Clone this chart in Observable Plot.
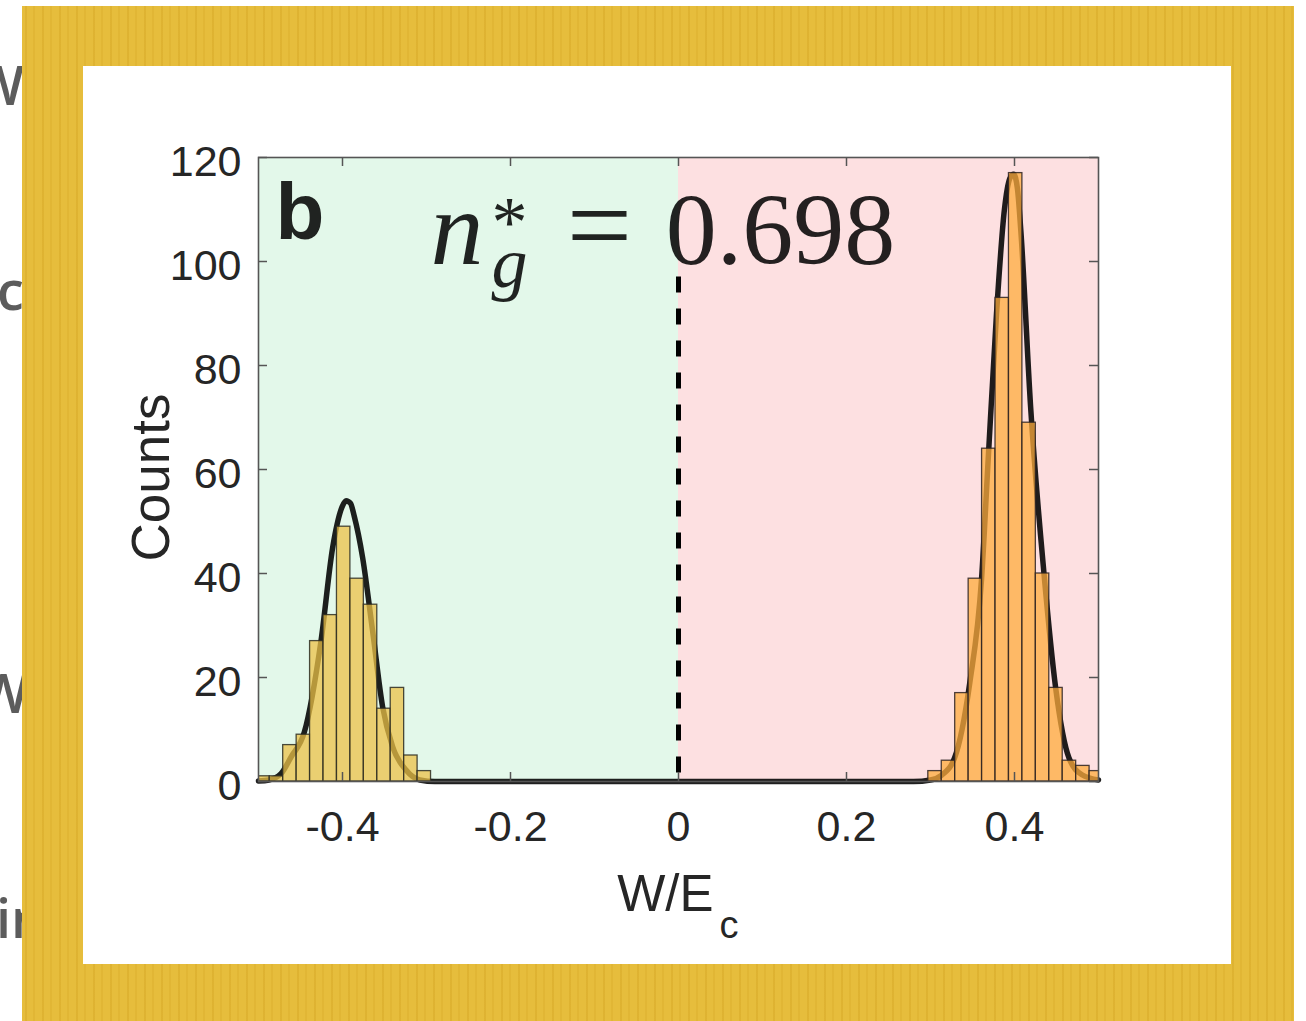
<!DOCTYPE html>
<html>
<head>
<meta charset="utf-8">
<script src="https://cdn.jsdelivr.net/npm/d3@7"></script>
<script src="https://cdn.jsdelivr.net/npm/@observablehq/plot@0.6"></script>
<style>
  html, body { margin: 0; padding: 0; background: #ffffff; }
  #page { position: relative; width: 1306px; height: 1021px; overflow: hidden; background: #ffffff; }
  .cut { position: absolute; font-family: "Open Sans", "DejaVu Sans", sans-serif; font-weight: 600;
         font-size: 54px; color: #5c5c5c; line-height: 1; white-space: nowrap; }
  #gold { position: absolute; left: 22px; top: 6px; width: 1272px; height: 1015px;
          background-color: #e6bd3c;
          background-image:
            repeating-linear-gradient(90deg, transparent 0 3px, rgba(205,155,25,0.30) 3px 5px, transparent 5px 11px, rgba(205,155,25,0.20) 11px 13px, transparent 13px 17px); }
  #card { position: absolute; left: 83px; top: 66px; width: 1148px; height: 898px; background: #ffffff; }
  #card svg { display: block; }
</style>
</head>
<body>
<div id="page">
  <div class="cut" style="left:-27px; top:57px;">W</div>
  <div class="cut" style="left:-3px; top:262px;">c</div>
  <div class="cut" style="left:-22px; top:665px;">W</div>
  <div class="cut" style="left:-4px; top:890px;">in</div>
  <div id="gold"></div>
  <div id="card"></div>
</div>
<script>
// ---------------- data ----------------
const xTicks = [-0.4, -0.2, 0, 0.2, 0.4];
const xTickLabels = ["-0.4", "-0.2", "0", "0.2", "0.4"];
const yTicks = [0, 20, 40, 60, 80, 100, 120];

// histogram around W/Ec = -0.4 (bin edges and counts)
const leftEdges  = [-0.5026, -0.4866, -0.4706, -0.4546, -0.4386, -0.4226, -0.4066, -0.3906, -0.3746, -0.3586, -0.3426, -0.3266, -0.3106, -0.2946];
const leftCounts = [1, 1, 7, 9, 27, 32, 49, 39, 34, 14, 18, 5, 2];

// histogram around W/Ec = +0.4
const rightEdges  = [0.2974, 0.3134, 0.3294, 0.3454, 0.3614, 0.3774, 0.3934, 0.4094, 0.4254, 0.4414, 0.4574, 0.4734, 0.4894, 0.5054];
const rightCounts = [2, 4, 17, 39, 64, 93, 117, 69, 40, 18, 4, 3, 2];

// fitted curve, points
const fitX = [-0.5, -0.4875, -0.4732, -0.4613, -0.4454, -0.4256, -0.4117, -0.4000, -0.3958, -0.3905, -0.386, -0.376, -0.3642, -0.3523, -0.3404, -0.3244, -0.308, -0.29, 0, 0.28, 0.30, 0.313, 0.3286, 0.3468, 0.3608, 0.3687, 0.3786, 0.3880, 0.3945, 0.3990, 0.4035, 0.4075, 0.4192, 0.4351, 0.4490, 0.4649, 0.4803, 0.5];
const fitY = [0.1, 0.3, 1.5, 4.7, 9.5, 27, 45, 53, 54, 53.5, 51, 43, 29, 14.4, 6.7, 2.2, 0.3, 0, 0, 0, 0.3, 1.2, 4.5, 19, 39, 62, 90, 110, 116, 116.8, 114, 106, 72, 40, 18, 4.5, 1.3, 0.3];

// shaded regions and the dashed divider
const regionBounds = [[-0.5, 0], [0, 0.5]];
const dividerX = [0];
const dividerTop = 97;

// texts
const panelLabel = "b";
const ngSymbol = "n";
const ngStar = "*";
const ngSub = "g";
const ngEquals = "=";
const ngValue = "0.698";
const yLabel = "Counts";
const xLabelMain = "W/E";
const xLabelSub = "c";

// ---------------- build ----------------
const leftBins = leftCounts.map((c, i) => ({x1: leftEdges[i], x2: leftEdges[i + 1], count: c}));
const rightBins = rightCounts.map((c, i) => ({x1: rightEdges[i], x2: rightEdges[i + 1], count: c}));
const fitData = fitX.map((x, i) => ({x, y: fitY[i]}));
const regions = regionBounds.map(([a, b], i) => ({x1: a, x2: b, side: i}));

const TXT = {fill: "black", fillOpacity: 0.86};
const SERIF = "'Liberation Serif', 'DejaVu Serif', serif";
const AX = "#555555";

const chart = Plot.plot({
  width: 1148,
  height: 898,
  marginLeft: 175,
  marginRight: 133,
  marginTop: 91,
  marginBottom: 183,
  style: {fontFamily: "'Liberation Sans', Arial, Helvetica, sans-serif", fontSize: "43px", color: "#262626", background: "white", overflow: "visible"},
  x: {domain: [-0.5, 0.5]},
  y: {domain: [0, 120]},
  marks: [
    Plot.rect(regions.filter(d => d.side === 0), {x1: "x1", x2: "x2", y1: 0, y2: 120, fill: "#e3f8ea"}),
    Plot.rect(regions.filter(d => d.side === 1), {x1: "x1", x2: "x2", y1: 0, y2: 120, fill: "#fde0e1"}),
    Plot.ruleX(dividerX, {x: d => d, y1: dividerTop, y2: 0, stroke: "black", strokeWidth: 5, strokeDasharray: "16,16"}),
    Plot.line(fitData, {x: "x", y: "y", curve: "monotone-x", stroke: "black", strokeOpacity: 0.88, strokeWidth: 5.5, strokeLinejoin: "round", strokeLinecap: "round"}),
    Plot.rectY(leftBins, {x1: "x1", x2: "x2", y: "count", fill: "#ecc146", fillOpacity: 0.74, stroke: "#2b2b22", strokeOpacity: 0.85, strokeWidth: 1.3, clip: true}),
    Plot.rectY(rightBins, {x1: "x1", x2: "x2", y: "count", fill: "#fdab3b", fillOpacity: 0.74, stroke: "#2b2222", strokeOpacity: 0.85, strokeWidth: 1.3, clip: true}),
    Plot.frame({stroke: AX, strokeWidth: 1.6}),
    // inward ticks on all four sides
    Plot.ruleY(yTicks, {y: d => d, x1: -0.5, x2: -0.5, insetRight: -9, stroke: AX, strokeWidth: 1.5}),
    Plot.ruleY(yTicks, {y: d => d, x1: 0.5, x2: 0.5, insetLeft: -9, stroke: AX, strokeWidth: 1.5}),
    Plot.ruleX(xTicks, {x: d => d, y1: 0, y2: 0, insetTop: -9, stroke: AX, strokeWidth: 1.5}),
    Plot.ruleX(xTicks, {x: d => d, y1: 120, y2: 120, insetBottom: -9, stroke: AX, strokeWidth: 1.5}),
    Plot.axisY(yTicks, {tickSize: 0, tickPadding: 17, dy: 5, label: null, fontSize: 43}),
    Plot.axisX(xTicks, {tickSize: 0, tickPadding: 29, label: null, fontSize: 43, tickFormat: d => xTickLabels[xTicks.indexOf(d)]}),
    // axis titles
    Plot.text([yLabel], {text: d => d, frameAnchor: "left", rotate: -90, dx: -106, dy: 8, fontSize: 53, textAnchor: "middle", lineAnchor: "middle", fill: "#262626"}),
    Plot.text([xLabelMain], {text: d => d, frameAnchor: "bottom", dx: 35, dy: 129, fontSize: 51, textAnchor: "end", lineAnchor: "bottom", fill: "#262626"}),
    Plot.text([xLabelSub], {text: d => d, frameAnchor: "bottom", dx: 41, dy: 156, fontSize: 38, textAnchor: "start", lineAnchor: "bottom", fill: "#262626"}),
    // panel label and n_g annotation
    Plot.text([panelLabel], {text: d => d, frameAnchor: "top-left", dx: 17, dy: 81, fontSize: 80, fontWeight: "bold", textAnchor: "start", lineAnchor: "bottom", ...TXT}),
    Plot.text([ngSymbol], {text: d => d, frameAnchor: "top-left", dx: 172, dy: 106, fontSize: 106, fontStyle: "italic", fontFamily: SERIF, textAnchor: "start", lineAnchor: "bottom", ...TXT}),
    Plot.text([ngStar], {text: d => d, frameAnchor: "top-left", dx: 251, dy: 88, fontSize: 72, fontFamily: SERIF, textAnchor: "middle", lineAnchor: "bottom", ...TXT}),
    Plot.text([ngSub], {text: d => d, frameAnchor: "top-left", dx: 233, dy: 129, fontSize: 72, fontStyle: "italic", fontFamily: SERIF, textAnchor: "start", lineAnchor: "bottom", ...TXT}),
    Plot.text([ngEquals], {text: d => d, frameAnchor: "top-left", dx: 341, dy: 106, fontSize: 116, fontFamily: SERIF, textAnchor: "middle", lineAnchor: "bottom", ...TXT}),
    Plot.text([ngValue], {text: d => d, frameAnchor: "top-left", dx: 522, dy: 106, fontSize: 102, fontFamily: SERIF, textAnchor: "middle", lineAnchor: "bottom", ...TXT})
  ]
});
document.getElementById("card").appendChild(chart);
</script>
</body>
</html>
